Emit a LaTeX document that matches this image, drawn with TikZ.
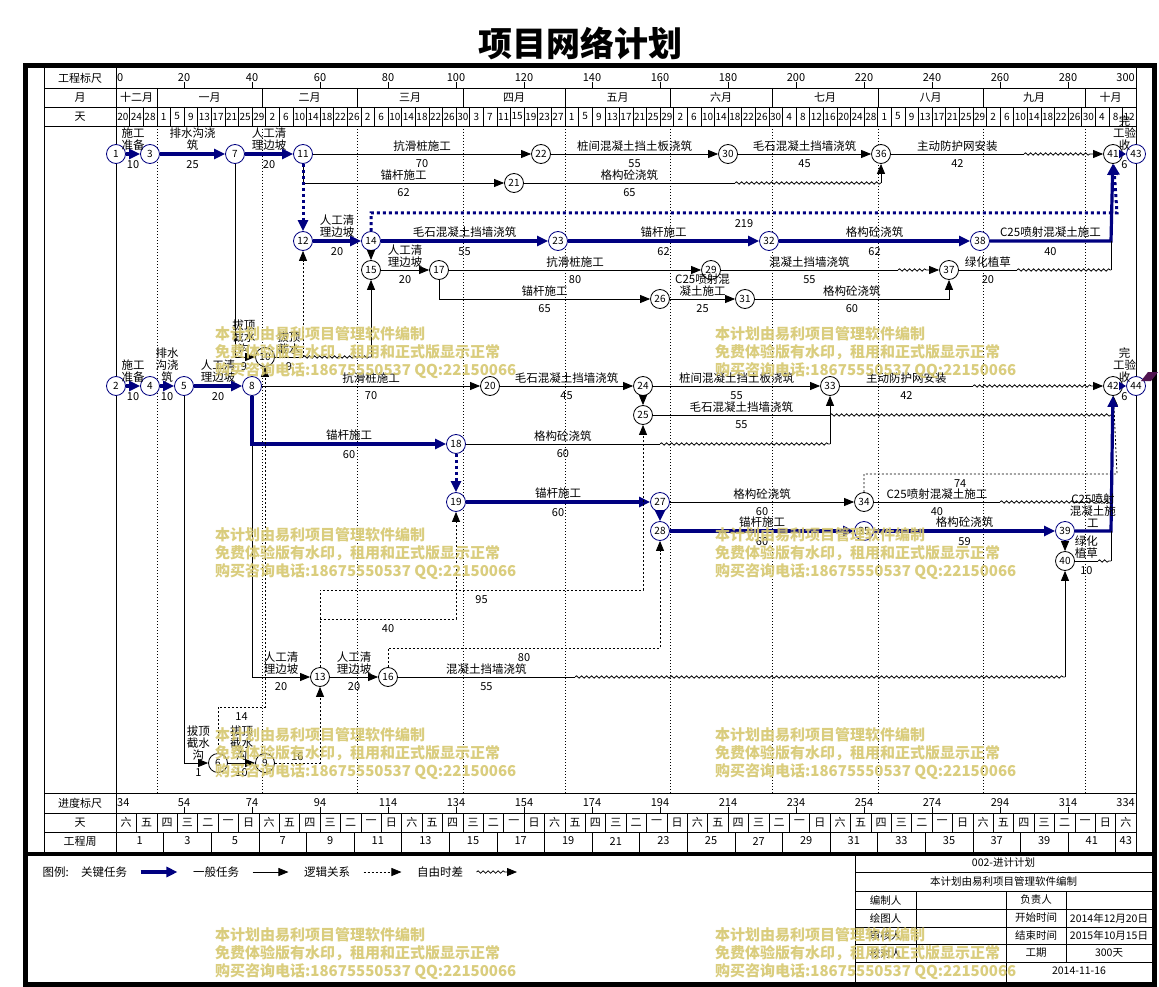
\documentclass[tikz,border=0pt]{standalone}
\usepackage{fontspec}
\setmainfont{Noto Sans CJK SC}
\usetikzlibrary{arrows.meta,positioning,calc,decorations.pathmorphing}
\definecolor{keyblue}{RGB}{0,0,128}
\definecolor{wmyellow}{RGB}{214,200,112}
\definecolor{flagpurple}{RGB}{80,20,80}
\newcommand\lblf{\fontsize{11.5}{12}\selectfont}
\newcommand\numf{\fontsize{11}{12}\selectfont}
\newcommand\hdf{\fontsize{11}{12}\selectfont}
\newcommand\smf{\fontsize{10}{11}\selectfont}
\newcommand\tbf{\fontsize{10.5}{12}\selectfont}

\begin{document}
\begin{tikzpicture}[x=1pt, y=-1pt,
    ev/.style={circle, draw, fill=white, line width=0.8pt, minimum size=19pt, inner sep=0pt, font=\smf},
    kev/.style={ev, draw=keyblue},
    act/.style={-{Triangle[length=10pt,width=8pt]}, line width=0.8pt},
    kact/.style={-{Triangle[length=11pt,width=10pt]}, draw=keyblue, line width=3.2pt},
    dum/.style={act, dash pattern=on 2pt off 2pt},
    kdum/.style={kact, line width=3pt, dash pattern=on 3pt off 3pt},
    flt/.style={line width=0.8pt, decorate, decoration={snake, amplitude=1.2pt, segment length=5pt}},
    fltA/.style={act, decorate, decoration={snake, amplitude=1.2pt, segment length=5pt, post length=11pt}},
    nm/.style={above=1pt, inner sep=1pt, font=\lblf, align=center},
    du/.style={below=4pt, inner sep=1pt, font=\numf},
    hd/.style={font=\hdf, inner sep=0pt},
    wm/.style={font=\fontsize{15}{18}\selectfont\bfseries, text=wmyellow, text opacity=0.9, align=left, anchor=north west, inner sep=0pt}
]
    \fill[white] (0,0) rectangle (1159,987);
    \useasboundingbox (0,0) rectangle (1159,987);

    % Title
    \node[font=\fontsize{34}{36}\selectfont\bfseries] (title) at (580,43) {项目网络计划};

    % Frame and grid
    \draw[line width=5pt] (25.5,66) rectangle (1154,984);
    \draw[line width=4pt] (25.5,854) -- (1154,854);
    \foreach \xx in {44,116,1136} \draw[line width=0.8pt] (\xx,68.5) -- (\xx,852);
    \foreach \yy in {88,107,126,793,813,832} \draw[line width=0.8pt] (44,\yy) -- (1136,\yy);
    \foreach \b in {157,262,357,463,565,670,772,878,983,1085}
        \draw[dash pattern=on 1pt off 2pt, line width=0.7pt] (\b,126) -- (\b,793);

    % Header rows
    \node[hd] (hscale) at (80,78) {工程标尺};
    \node[hd] (hmonth) at (80,97.5) {月};
    \node[hd] (hday) at (80,116.5) {天};
    \node[hd, anchor=west] (s0) at (117,78) {0};
    \node[hd, anchor=east] (s300) at (1135,78) {300};
    \foreach \k [evaluate=\k as \v using int(20*\k)] in {1,...,14} {
        \draw (116+68*\k,88) -- ++(0,-6);
        \node[hd] (s\v) at (116+68*\k,78) {\v};
    }
    \foreach \a/\b/\m in {116/157/十二月,157/262/一月,262/357/二月,357/463/三月,463/565/四月,565/670/五月,670/772/六月,772/878/七月,878/983/八月,983/1085/九月,1085/1136/十月} {
        \draw (\b,88) -- (\b,107);
        \node[hd] (m\a) at ({(\a+\b)/2},97.5) {\m};
    }
    \foreach \d [count=\i from 0] in {20,24,28,1,5,9,13,17,21,25,29,2,6,10,14,18,22,26,2,6,10,14,18,22,26,30,3,7,11,15,19,23,27,1,5,9,13,17,21,25,29,2,6,10,14,18,22,26,30,4,8,12,16,20,24,28,1,5,9,13,17,21,25,29,2,6,10,14,18,22,26,30,4,8,12} {
        \node[hd, font=\smf] (d\i) at (122.8+13.6*\i,116.5) {\d};
        \ifnum\i>0 \draw (116+13.6*\i,107) -- ++(0,19); \fi
    }

    % Bottom rows
    \node[hd] (bscale) at (80,803) {进度标尺};
    \node[hd] (bday) at (80,822.5) {天};
    \node[hd] (bweek) at (80,841) {工程周};
    \node[hd, anchor=west] (p34) at (117,803) {34};
    \node[hd, anchor=east] (p334) at (1135,803) {334};
    \foreach \k [evaluate=\k as \v using int(20*\k+34)] in {1,...,14} {
        \draw (116+68*\k,813) -- ++(0,-6);
        \node[hd] (p\v) at (116+68*\k,803) {\v};
    }
    \foreach \c in {0,...,7} {
        \foreach \w [count=\j from 0] in {六,五,四,三,二,一,日} {
            \pgfmathtruncatemacro\wcell{7*\c+\j}
            \ifnum\wcell<50
                \node[hd] (w\wcell) at (126.2+20.4*\wcell,822.5) {\w};
                \ifnum\wcell>0 \draw (116+20.4*\wcell,813) -- ++(0,19); \fi
            \fi
        }
    }
    \foreach \i in {0,...,21} {
        \pgfmathtruncatemacro\wk{2*\i+1}
        \ifnum\i<21 \node[hd] (k\wk) at (139.8+47.6*\i,841) {\wk};
        \else \node[hd] (k\wk) at (1125.8,841) {\wk}; \fi
        \ifnum\i>0 \draw (116+47.6*\i,832) -- ++(0,20); \fi
    }

    % Events, upper net
    \node[kev] (n1) at (116,154) {1};
    \node[kev] (n3) at (150,154) {3};
    \node[kev] (n7) at (235,154) {7};
    \node[kev] (n11) at (303,154) {11};
    \node[ev] (n22) at (541,154) {22};
    \node[ev] (n30) at (728,154) {30};
    \node[ev] (n36) at (881,154) {36};
    \node[ev] (n41) at (1113,154) {41};
    \node[kev] (n43) at (1136,154) {43};
    \node[ev] (n21) at (514,183) {21};
    \node[kev] (n12) at (303,241) {12};
    \node[kev] (n14) at (371,241) {14};
    \node[kev] (n23) at (558,241) {23};
    \node[kev] (n32) at (769,241) {32};
    \node[kev] (n38) at (980,241) {38};
    \node[ev] (n15) at (371,270) {15};
    \node[ev] (n17) at (439,270) {17};
    \node[ev] (n29) at (711,270) {29};
    \node[ev] (n37) at (949,270) {37};
    \node[ev] (n26) at (660,299) {26};
    \node[ev] (n31) at (745,299) {31};
    \node[ev] (n10) at (265,357) {10};

    % Events, lower net
    \node[kev] (n2) at (116,386) {2};
    \node[kev] (n4) at (150,386) {4};
    \node[kev] (n5) at (184,386) {5};
    \node[kev] (n8) at (252,386) {8};
    \node[ev] (n20) at (490,386) {20};
    \node[ev] (n24) at (643,386) {24};
    \node[ev] (n33) at (830,386) {33};
    \node[ev] (n42) at (1113,386) {42};
    \node[kev] (n44) at (1136,386) {44};
    \node[ev] (n25) at (643,415) {25};
    \node[kev] (n18) at (456,444) {18};
    \node[kev] (n19) at (456,502) {19};
    \node[kev] (n27) at (660,502) {27};
    \node[ev] (n34) at (864,502) {34};
    \node[kev] (n28) at (660,531) {28};
    \node[kev] (n35) at (864,531) {35};
    \node[kev] (n39) at (1065,531) {39};
    \node[ev] (n40) at (1065,561) {40};
    \node[ev] (n13) at (320,677) {13};
    \node[ev] (n16) at (388,677) {16};
    \node[ev] (n6) at (218,763) {6};
    \node[ev] (n9) at (265,763) {9};

    % Bends and float ends
    \coordinate (w36) at (1024,154);
    \coordinate (w21) at (735,183);
    \coordinate (j21) at (881,183);
    \coordinate (w29) at (898,270);
    \coordinate (w37) at (1017,270);
    \coordinate (j37) at (1111,270);
    \coordinate (c3841) at (1111,241);
    \coordinate (c1441) at (1117,213);
    \coordinate (c1012) at (303,357);
    \coordinate (j10) at (371,357);
    \coordinate (w33) at (973,386);
    \coordinate (w25) at (830,415);
    \coordinate (j25) at (1111,415);
    \coordinate (w18) at (660,444);
    \coordinate (j18) at (830,444);
    \coordinate (w34) at (1000,502);
    \coordinate (j34) at (1111,502);
    \coordinate (c3442) at (1117,474);
    \coordinate (c3942) at (1111,531);
    \coordinate (w40) at (1098,561);
    \coordinate (j40) at (1111,561);
    \coordinate (w16) at (575,677);
    \coordinate (j16) at (1065,677);
    \coordinate (c1319) at (456,619);
    \coordinate (c1325) at (643,590);
    \coordinate (c1628) at (660,648);
    \coordinate (c610) at (265,707);

    % Upper net tasks
    \draw[kact] (n1) -- node[nm]{施工\\准备} node[du]{10} (n3);
    \draw[kact] (n3) -- node[nm]{排水沟浇\\筑} node[du]{25} (n7);
    \draw[kact] (n7) -- node[nm]{人工清\\理边坡} node[du]{20} (n11);
    \draw[act] (n11) -- node[nm]{抗滑桩施工} node[du]{70} (n22);
    \draw[act] (n22) -- node[nm]{桩间混凝土挡土板浇筑} node[du]{55} (n30);
    \draw[act] (n30) -- node[nm]{毛石混凝土挡墙浇筑} node[du]{45} (n36);
    \draw[line width=0.8pt] (n36) -- node[nm]{主动防护网安装} node[du]{42} (w36);
    \draw[fltA] (w36) -- (n41);
    \draw[kact, -{Triangle[length=7pt,width=8pt]}] (n41) -- node[nm]{完\\工验\\收} node[du]{6} (n43);
    \draw[act] (n11) |- node[nm, pos=0.75]{锚杆施工} node[du, pos=0.75]{62} (n21);
    \draw[line width=0.8pt] (n21) -- node[nm]{格构砼浇筑} node[du]{65} (w21);
    \draw[flt] (w21) -- (j21);
    \draw[act] (j21) -- (n36);
    \draw[kdum] (n11) -- (n12);
    \draw[kact] (n12) -- node[nm]{人工清\\理边坡} node[du]{20} (n14);
    \draw[kact] (n14) -- node[nm]{毛石混凝土挡墙浇筑} node[du]{55} (n23);
    \draw[kact] (n23) -- node[nm]{锚杆施工} node[du]{62} (n32);
    \draw[kact] (n32) -- node[nm]{格构砼浇筑} node[du]{62} (n38);
    \draw[kact] (n38) -- node[nm]{C25喷射混凝土施工} node[du]{40} (c3841) -- (n41);
    \draw[kdum] (n14) |- node[du, pos=0.75]{219} (c1441) -- (n41);
    \draw[act] (n14) -- (n15);
    \draw[act] (n15) -- node[nm]{人工清\\理边坡} node[du]{20} (n17);
    \draw[act] (n17) -- node[nm]{抗滑桩施工} node[du]{80} (n29);
    \draw[line width=0.8pt] (n29) -- node[nm]{混凝土挡墙浇筑} node[du]{55} (w29);
    \draw[fltA] (w29) -- (n37);
    \draw[act] (n17) |- node[nm, pos=0.75]{锚杆施工} node[du, pos=0.75]{65} (n26);
    \draw[act] (n26) -- node[nm]{C25喷射混\\凝土施工} node[du]{25} (n31);
    \draw[act] (n31) -| node[nm, pos=0.25]{格构砼浇筑} node[du, pos=0.25]{60} (n37);
    \draw[line width=0.8pt] (n37) -- node[nm]{绿化植草} node[du]{20} (w37);
    \draw[flt] (w37) -- (j37);
    \draw[line width=0.8pt] (j37) -- (c3841);
    \draw[act] (n7) |- node[nm, pos=0.72]{拔顶\\截水\\沟} node[du, pos=0.72]{9} (n10);
    \draw[line width=0.8pt] (n10) -- node[nm]{拔顶\\截水} node[du]{9} (c1012);
    \draw[flt] (c1012) -- (j10);
    \draw[act] (j10) -- (n15);
    \draw[dum] (c1012) -- (n12);

    % Lower net tasks
    \draw[kact] (n2) -- node[nm]{施工\\准备} node[du]{10} (n4);
    \draw[kact] (n4) -- node[nm]{排水\\沟浇\\筑} node[du]{10} (n5);
    \draw[kact] (n5) -- node[nm]{人工清\\理边坡} node[du]{20} (n8);
    \draw[act] (n8) -- node[nm]{抗滑桩施工} node[du]{70} (n20);
    \draw[act] (n20) -- node[nm]{毛石混凝土挡墙浇筑} node[du]{45} (n24);
    \draw[act] (n24) -- node[nm]{桩间混凝土挡土板浇筑} node[du]{55} (n33);
    \draw[line width=0.8pt] (n33) -- node[nm]{主动防护网安装} node[du]{42} (w33);
    \draw[fltA] (w33) -- (n42);
    \draw[kact, -{Triangle[length=7pt,width=8pt]}] (n42) -- node[nm]{完\\工验\\收} node[du]{6} (n44);
    \draw[act] (n24) -- (n25);
    \draw[line width=0.8pt] (n25) -- node[nm]{毛石混凝土挡墙浇筑} node[du]{55} (w25);
    \draw[flt] (w25) -- (j25);
    \draw[act] (n8) |- node[nm, pos=0.75]{人工清\\理边坡} node[du, pos=0.75]{20} (n13);
    \draw[kact] (n8) |- node[nm, pos=0.75]{锚杆施工} node[du, pos=0.75]{60} (n18);
    \draw[line width=0.8pt] (n18) -- node[nm]{格构砼浇筑} node[du]{60} (w18);
    \draw[flt] (w18) -- (j18);
    \draw[act] (j18) -- (n33);
    \draw[kdum] (n18) -- (n19);
    \draw[kact] (n19) -- node[nm]{锚杆施工} node[du]{60} (n27);
    \draw[act] (n27) -- node[nm]{格构砼浇筑} node[du]{60} (n34);
    \draw[line width=0.8pt] (n34) -- node[nm]{C25喷射混凝土施工} node[du]{40} (w34);
    \draw[flt] (w34) -- (j34);
    \draw[dum] (n34) |- node[du, pos=0.69]{74} (c3442) -- (n42);
    \draw[kdum] (n27) -- (n28);
    \draw[kact] (n28) -- node[nm]{锚杆施工} node[du]{60} (n35);
    \draw[kact] (n35) -- node[nm]{格构砼浇筑} node[du]{59} (n39);
    \draw[kact] (n39) -- node[nm]{C25喷射\\混凝土施\\工} (c3942) -- (n42);
    \draw[act] (n39) -- (n40);
    \draw[line width=0.8pt] (n40) -- node[nm]{绿化\\植草} node[du]{10} (w40);
    \draw[flt] (w40) -- (j40);
    \draw[line width=0.8pt] (j40) -- (c3942);
    \draw[act] (n13) -- node[nm]{人工清\\理边坡} node[du]{20} (n16);
    \draw[line width=0.8pt] (n16) -- node[nm]{混凝土挡墙浇筑} node[du]{55} (w16);
    \draw[flt] (w16) -- (j16);
    \draw[act] (j16) -- (n40);
    \draw[act] (n5) |- node[nm, pos=0.8]{拔顶\\截水\\沟} node[du, pos=0.8]{1} (n6);
    \draw[act] (n6) -- node[nm]{拔顶\\截水\\沟} node[du]{10} (n9);
    \draw[dum] (n6) |- node[du, pos=0.75]{14} (c610) -- (n10);
    \draw[dum] (n9) -| node[nm, font=\numf, pos=0.25]{16} (n13);
    \draw[dum] (n13) |- node[du, pos=0.75]{40} (c1319) -- (n19);
    \draw[dum] (n13) |- node[du, pos=0.75]{95} (c1325) -- (n25);
    \draw[dum] (n16) |- node[du, pos=0.75]{80} (c1628) -- (n28);

    % Finish flag
    \fill[flagpurple] (1141,381) -- (1148,372) -- (1158,372) -- (1151,381) -- cycle;

    % Legend
    \node[font=\lblf, anchor=west] (lgtitle) at (39,872) {图例:};
    \node[font=\lblf] (lgkey) at (104,872) {关键任务};
    \node[font=\lblf] (lgnorm) at (216,872) {一般任务};
    \node[font=\lblf] (lglogic) at (327,872) {逻辑关系};
    \node[font=\lblf] (lgfree) at (440,872) {自由时差};
    \coordinate (lgend) at (517,872);
    \draw[kact] ([xshift=10pt]lgkey.east) -- ([xshift=-12pt]lgnorm.west);
    \draw[act] ([xshift=10pt]lgnorm.east) -- ([xshift=-12pt]lglogic.west);
    \draw[dum] ([xshift=10pt]lglogic.east) -- ([xshift=-12pt]lgfree.west);
    \draw[fltA] ([xshift=10pt]lgfree.east) -- (lgend);

    % Title block
    \foreach \yy in {872,891,909,927,944,962} \draw (855,\yy) -- (1152,\yy);
    \draw (855,854) -- (855,982);
    \draw (916,891) -- (916,962);
    \draw (1006,891) -- (1006,982);
    \draw (1066,891) -- (1066,962);
    \node[font=\tbf] (tbname) at (1003.5,863) {002-进计计划};
    \node[font=\tbf] (tbsoft) at (1003.5,881.5) {本计划由易利项目管理软件编制};
    \node[font=\tbf] (tbmaker) at (885.5,900) {编制人};
    \node[font=\tbf] (tbchief) at (1036,900) {负责人};
    \node[font=\tbf] (tbdraw) at (885.5,918) {绘图人};
    \node[font=\tbf] (tbstart) at (1036,918) {开始时间};
    \node[font=\tbf] (tbstartv) at (1109,918) {2014年12月20日};
    \node[font=\tbf] (tbcheck) at (885.5,935.5) {审核人};
    \node[font=\tbf] (tbend) at (1036,935.5) {结束时间};
    \node[font=\tbf] (tbendv) at (1109,935.5) {2015年10月15日};
    \node[font=\tbf] (tbproof) at (885.5,953) {校对人};
    \node[font=\tbf] (tbdur) at (1036,953) {工期};
    \node[font=\tbf] (tbdurv) at (1109,953) {300天};
    \node[font=\tbf] (tbdate) at (1079,971) {2014-11-16};

    % Watermark
    \foreach \wx in {215,715} \foreach \wy in {326,527,727,927}
        \node[wm] (wm\wx\wy) at (\wx,\wy) {本计划由易利项目管理软件编制\\免费体验版有水印，租用和正式版显示正常\\购买咨询电话:18675550537 QQ:22150066};
\end{tikzpicture}
\end{document}
